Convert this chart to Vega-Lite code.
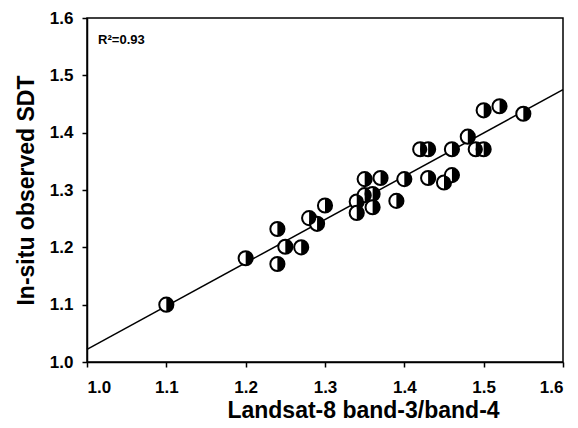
{
  "$schema": "https://vega.github.io/schema/vega-lite/v6.json",
  "width": 476,
  "height": 344,
  "autosize": {"type": "none"},
  "padding": {"left": 87, "top": 18, "right": 15, "bottom": 66},
  "background": "white",
  "config": {
    "font": "Liberation Sans",
    "view": {"stroke": "black", "strokeWidth": 1.5},
    "axis": {
      "grid": false,
      "domainColor": "black",
      "domainWidth": 1.5,
      "tickColor": "black",
      "tickWidth": 1.5,
      "tickSize": 5,
      "labelColor": "black",
      "labelFont": "Liberation Sans",
      "labelFontSize": 17,
      "labelFontWeight": "bold",
      "titleColor": "black",
      "titleFont": "Liberation Sans",
      "titleFontSize": 23,
      "titleFontWeight": "bold"
    }
  },
  "datasets": {
    "obs": [
      {"ratio": 1.10, "sdt": 1.100},
      {"ratio": 1.20, "sdt": 1.181},
      {"ratio": 1.24, "sdt": 1.232},
      {"ratio": 1.24, "sdt": 1.171},
      {"ratio": 1.25, "sdt": 1.201},
      {"ratio": 1.27, "sdt": 1.200},
      {"ratio": 1.28, "sdt": 1.251},
      {"ratio": 1.29, "sdt": 1.241},
      {"ratio": 1.30, "sdt": 1.273},
      {"ratio": 1.34, "sdt": 1.280},
      {"ratio": 1.34, "sdt": 1.260},
      {"ratio": 1.35, "sdt": 1.319},
      {"ratio": 1.37, "sdt": 1.321},
      {"ratio": 1.40, "sdt": 1.319},
      {"ratio": 1.35, "sdt": 1.291},
      {"ratio": 1.36, "sdt": 1.293},
      {"ratio": 1.36, "sdt": 1.270},
      {"ratio": 1.39, "sdt": 1.281},
      {"ratio": 1.50, "sdt": 1.439},
      {"ratio": 1.52, "sdt": 1.446},
      {"ratio": 1.55, "sdt": 1.433},
      {"ratio": 1.42, "sdt": 1.371},
      {"ratio": 1.43, "sdt": 1.371},
      {"ratio": 1.46, "sdt": 1.371},
      {"ratio": 1.48, "sdt": 1.393},
      {"ratio": 1.49, "sdt": 1.371},
      {"ratio": 1.50, "sdt": 1.371},
      {"ratio": 1.43, "sdt": 1.321},
      {"ratio": 1.45, "sdt": 1.313},
      {"ratio": 1.46, "sdt": 1.326}
    ],
    "fit": [
      {"ratio": 1.0, "sdt": 1.022},
      {"ratio": 1.6, "sdt": 1.475}
    ],
    "note": [
      {"ratio": 1.014, "sdt": 1.562, "label": "R²=0.93"}
    ]
  },
  "encoding": {
    "x": {
      "field": "ratio",
      "type": "quantitative",
      "scale": {"domain": [1.0, 1.6], "nice": false, "zero": false},
      "axis": {
        "title": "Landsat-8 band-3/band-4",
        "values": [1.0, 1.1, 1.2, 1.3, 1.4, 1.5, 1.6],
        "format": ".1f",
        "labelPadding": 12,
        "titlePadding": 4,
        "titleX": 276
      }
    },
    "y": {
      "field": "sdt",
      "type": "quantitative",
      "scale": {"domain": [1.0, 1.6], "nice": false, "zero": false},
      "axis": {
        "title": "In-situ observed SDT",
        "values": [1.0, 1.1, 1.2, 1.3, 1.4, 1.5, 1.6],
        "format": ".1f",
        "labelPadding": 9,
        "titlePadding": 11
      }
    }
  },
  "layer": [
    {
      "data": {"name": "fit"},
      "mark": {"type": "line", "color": "black", "strokeWidth": 1.5}
    },
    {
      "data": {"name": "obs"},
      "mark": {
        "type": "point",
        "shape": "circle",
        "filled": false,
        "fill": "white",
        "fillOpacity": 1,
        "stroke": "black",
        "strokeWidth": 2,
        "opacity": 1,
        "size": 200
      }
    },
    {
      "data": {"name": "obs"},
      "mark": {
        "type": "point",
        "shape": "M0,-1A1,1 0 0 1 0,1Z",
        "filled": true,
        "fill": "black",
        "fillOpacity": 1,
        "strokeWidth": 0,
        "opacity": 1,
        "size": 200
      }
    },
    {
      "data": {"name": "note"},
      "mark": {
        "type": "text",
        "align": "left",
        "baseline": "middle",
        "font": "Liberation Sans",
        "fontSize": 13,
        "fontWeight": "bold",
        "color": "black"
      },
      "encoding": {"text": {"field": "label"}}
    }
  ]
}
